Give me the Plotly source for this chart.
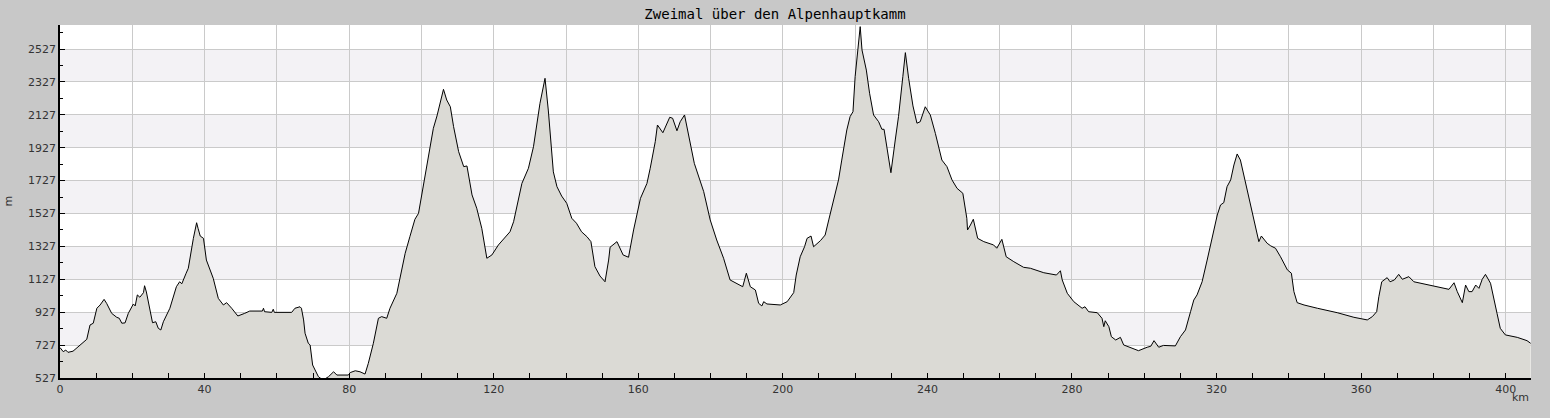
import plotly.graph_objects as go

# elevation profile
km = [0.0, 0.9, 1.6, 2.2, 3.6, 5.1, 6.5, 7.4, 8.3, 9.2, 10.2, 11.1, 12.2, 12.9, 14.3, 15.7,
      16.4, 17.1, 18.0, 18.9, 20.3, 20.8, 21.4, 22.1, 23.1, 23.4, 23.9, 24.9, 25.6, 26.5,
      27.2, 27.9, 28.6, 30.4, 32.2, 33.1, 33.7, 34.9, 35.5, 36.9, 37.8, 38.2, 38.8, 39.7,
      40.5, 42.4, 43.8, 45.2, 46.1, 47.5, 49.2, 51.1, 52.5, 56.0, 56.3, 56.6, 58.6, 59.0,
      59.3, 64.1, 65.0, 66.4, 66.8, 67.4, 67.8, 68.7, 69.2, 69.9, 70.6, 71.5, 72.3, 73.5,
      74.3, 75.7, 76.6, 79.8, 80.3, 81.7, 83.0, 84.4, 85.3, 86.7, 88.1, 89.0, 90.4, 91.3,
      93.2, 94.0, 95.5, 96.8, 98.2, 99.2, 100.5, 101.9, 103.3, 104.3, 105.2, 106.1, 107.0,
      108.0, 108.9, 110.3, 111.7, 112.6, 114.0, 115.3, 116.7, 117.6, 118.1, 119.5, 121.3,
      124.5, 125.5, 127.8, 129.6, 131.0, 132.1, 132.8, 134.2, 135.1, 136.5, 137.5, 138.8,
      140.2, 141.6, 142.9, 144.3, 145.8, 146.9, 148.0, 149.4, 150.8, 151.8, 152.2, 154.1,
      155.8, 157.3, 158.7, 160.6, 162.4, 163.3, 164.7, 165.3, 166.8, 168.7, 169.5, 170.7,
      171.6, 172.8, 173.9, 175.5, 178.1, 179.9, 181.7, 183.6, 185.4, 187.3, 188.9, 189.9,
      191.0, 192.4, 193.3, 194.2, 194.7, 195.6, 199.3, 201.2, 203.0, 203.7, 204.8, 206.0,
      206.7, 207.8, 208.5, 210.4, 211.7, 212.7, 214.0, 215.4, 216.3, 217.7, 218.6, 219.4,
      220.0, 220.9, 221.4, 221.9, 223.1, 224.0, 225.1, 226.5, 227.4, 228.0, 229.0, 229.9,
      231.1, 232.0, 233.2, 233.9, 234.8, 236.0, 237.1, 238.0, 239.4, 240.8, 242.2, 244.0,
      245.4, 246.8, 248.2, 249.8, 250.9, 251.1, 251.9, 252.7, 253.9, 255.6, 258.3, 259.2,
      260.6, 261.8, 263.9, 266.6, 268.5, 270.8, 272.2, 275.7, 276.8, 277.3, 278.7, 280.5,
      282.8, 283.6, 284.6, 287.0, 288.3, 288.8, 289.2, 290.2, 290.9, 292.1, 293.4, 294.3,
      296.2, 298.4, 300.8, 301.8, 302.7, 304.0, 305.3, 308.6, 310.0, 311.4, 312.8, 313.7,
      314.6, 316.0, 317.4, 318.8, 320.2, 321.1, 322.0, 322.9, 323.9, 324.8, 325.7, 326.6,
      328.0, 329.4, 330.8, 331.7, 332.4, 334.0, 335.0, 336.3, 337.7, 339.6, 340.7, 341.4,
      342.3, 344.2, 347.9, 353.4, 358.0, 361.7, 363.1, 364.3, 364.9, 365.7, 367.2, 368.0,
      369.2, 370.4, 371.4, 373.2, 374.6, 376.4, 380.6, 384.3, 385.7, 386.6, 388.0, 388.9,
      389.8, 390.7, 391.7, 392.6, 393.5, 394.4, 395.8, 396.7, 397.6, 398.5, 399.9, 403.2,
      405.9, 406.9]
elev = [712, 687, 697, 683, 690, 717, 742, 762, 849, 860, 951, 971, 1005, 981, 920, 896,
        890, 860, 862, 920, 977, 965, 1032, 1018, 1046, 1088, 1050, 930, 863, 869,
        829, 819, 869, 951, 1082, 1112, 1100, 1164, 1194, 1376, 1471, 1437, 1390, 1376,
        1244, 1133, 1011, 971, 985, 951, 904, 920, 934, 934, 951, 930, 926, 945,
        926, 926, 951, 960, 951, 880, 799, 738, 728, 606, 576, 535, 522, 524,
        535, 565, 545, 545, 560, 571, 565, 551, 616, 738, 890, 900, 890, 951,
        1042, 1123, 1285, 1386, 1492, 1528, 1690, 1873, 2045, 2120, 2197, 2282, 2217,
        2176, 2055, 1903, 1812, 1816, 1640, 1559, 1437, 1325, 1255, 1275, 1336,
        1416, 1477, 1710, 1802, 1933, 2106, 2197, 2349, 2156, 1780, 1690, 1633,
        1589, 1498, 1468, 1416, 1386, 1356, 1204, 1147, 1112, 1244, 1322, 1356,
        1275, 1261, 1427, 1619, 1710, 1802, 1964, 2065, 2018, 2112, 2106, 2030,
        2085, 2126, 2004, 1832, 1660, 1488, 1366, 1255, 1123, 1098, 1082, 1164,
        1082, 1062, 981, 965, 991, 977, 971, 991, 1046, 1153, 1264, 1325,
        1376, 1390, 1325, 1362, 1396, 1488, 1609, 1731, 1852, 2035, 2116, 2146,
        2359, 2541, 2663, 2521, 2399, 2258, 2126, 2085, 2039, 2039, 1893, 1775,
        1974, 2116, 2359, 2505, 2349, 2181, 2076, 2085, 2176, 2126, 2014, 1852,
        1812, 1731, 1680, 1650, 1498, 1427, 1457, 1492, 1376, 1356, 1336, 1316,
        1370, 1264, 1234, 1200, 1194, 1179, 1167, 1153, 1179, 1123, 1042, 991,
        951, 960, 930, 924, 890, 839, 875, 839, 778, 758, 774, 728,
        714, 693, 714, 720, 754, 714, 725, 722, 778, 819, 930, 1001,
        1032, 1112, 1244, 1386, 1518, 1579, 1593, 1690, 1731, 1822, 1889, 1852,
        1710, 1589, 1427, 1356, 1390, 1346, 1330, 1316, 1264, 1184, 1164, 1052,
        985, 971, 951, 924, 896, 880, 900, 930, 1021, 1112, 1137, 1112,
        1123, 1157, 1127, 1143, 1112, 1103, 1086, 1066, 1106, 1052, 985, 1092,
        1052, 1052, 1092, 1072, 1127, 1157, 1103, 1021, 920, 829, 789, 774,
        754, 738]

x_ticks = list(range(0, 401, 20))
x_labels = [str(v) if v % 40 == 0 else "" for v in x_ticks]
band_starts = [727, 1127, 1527, 1927, 2327]  # shaded elevation bands

fig = go.Figure()
fig.add_trace(go.Scatter(x=km, y=elev, mode="lines", fill="tozeroy",
                         line=dict(color="black", width=1),
                         fillcolor="#dbdad5", hoverinfo="x+y"))

for b in band_starts:
    fig.add_shape(type="rect", xref="paper", x0=0, x1=1, yref="y", y0=b, y1=b + 200,
                  fillcolor="#f3f2f5", line_width=0, layer="below")

tfont = dict(family="DejaVu Sans", size=11, color="#333333")
fig.update_layout(
    width=1550, height=418,
    margin=dict(l=60, r=19, t=25, b=40),
    paper_bgcolor="#c8c8c8", plot_bgcolor="white",
    showlegend=False,
    title=dict(text="Zweimal über den Alpenhauptkamm", x=0.5, xref="container",
               y=0.967, yanchor="middle", xanchor="center",
               font=dict(family="DejaVu Sans Mono", size=14, color="black")),
    xaxis=dict(range=[0, 407], tickmode="array", tickvals=x_ticks, ticktext=x_labels,
               ticks="inside", ticklen=5, tickcolor="black", showline=True,
               linecolor="black", linewidth=1.5, showgrid=True, gridcolor="#cacaca",
               gridwidth=1, zeroline=False, tickfont=tfont,
               minor=dict(dtick=10, tick0=0, ticks="inside", ticklen=5,
                          tickcolor="black", showgrid=False)),
    yaxis=dict(range=[527, 2673], tickmode="linear", tick0=527, dtick=200,
               ticks="inside", ticklen=5, tickcolor="black", showline=True,
               linecolor="black", linewidth=1.5, showgrid=True, gridcolor="#cacaca",
               gridwidth=1, zeroline=False, tickfont=tfont,
               minor=dict(dtick=100, tick0=527, ticks="inside", ticklen=3,
                          tickcolor="black", showgrid=False)),
)

fig.add_annotation(text="m", xref="paper", yref="paper", x=-52 / 1471, y=0.5,
                   textangle=-90, showarrow=False, font=tfont,
                   xanchor="center", yanchor="middle")
fig.add_annotation(text="km", xref="paper", yref="paper", x=1, y=-0.054,
                   showarrow=False, font=tfont, xanchor="right", yanchor="middle")

# drop the browser's default page margin so the chart sits at the window corner
fig.write_html("out.html", config={"displayModeBar": False},
               post_script="document.body.style.margin='0';"
                           "document.body.style.background='#c8c8c8';")
